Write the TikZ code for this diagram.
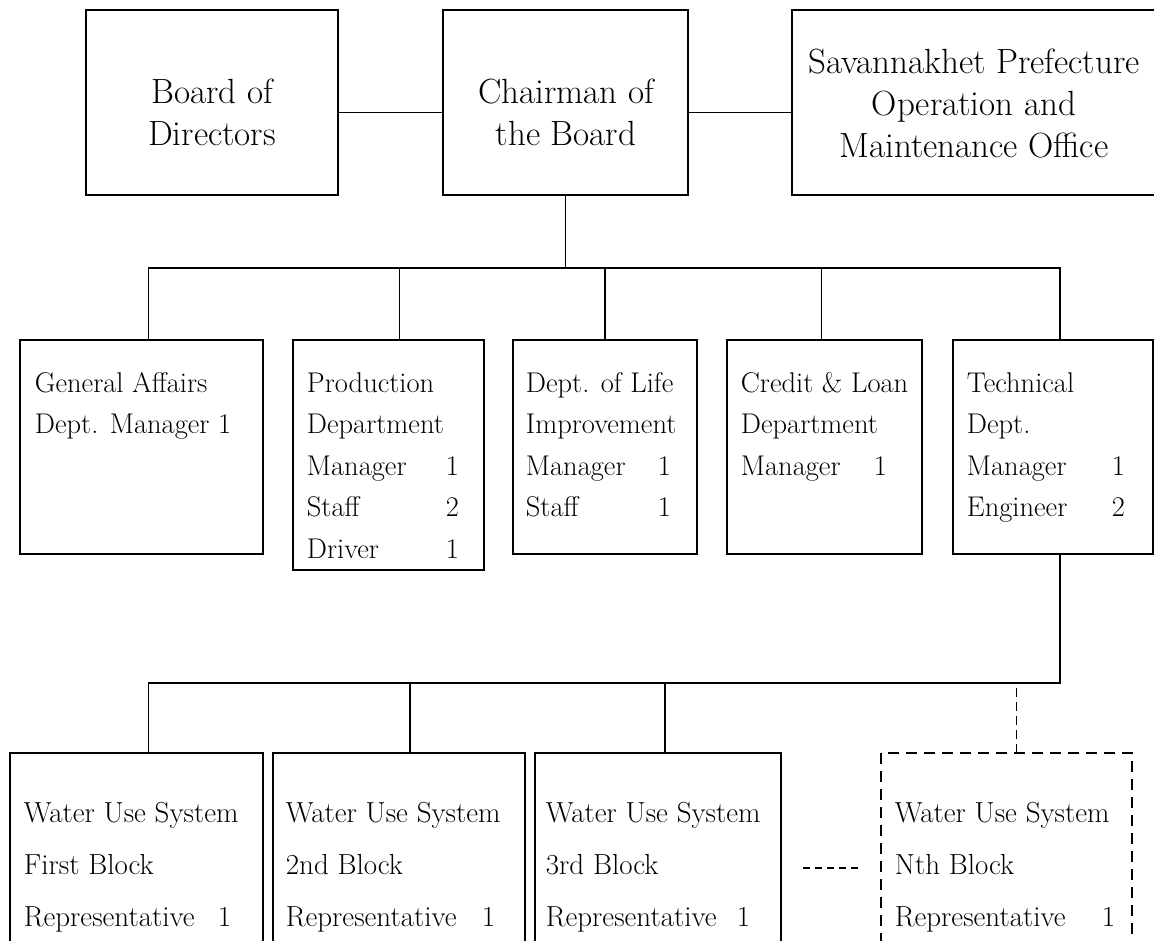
\documentclass[tikz,border=0pt]{standalone}
\usepackage{fontspec}
\usepackage{tikz}

\newcommand{\orgfont}{\fontsize{28.5}{41.5}\selectfont}
\newcommand{\topfont}{\fontsize{35}{42}\selectfont}
\newcommand{\wsfont}{\fontsize{29}{52}\selectfont}
\newcommand{\cnt}[3]{\makebox[#1][l]{#2}#3}

\begin{document}
\begin{tikzpicture}[x=1pt,
            y=-1pt,
            line width=1.8pt,
            box/.style={draw, inner sep=0pt, outer sep=0pt, anchor=north west},
            toptxt/.style={align=center, inner sep=0pt, font=\topfont},
            deptxt/.style={anchor=base west, inner sep=0pt, font=\orgfont},
            wstxt/.style={anchor=base west, inner sep=0pt, font=\wsfont},
            dashbox/.style={box, dash pattern=on 11pt off 7pt}]

        \useasboundingbox (0,0) rectangle (1154,940);
        \clip (0,0) rectangle (1154,940);

        % top row
        \node[box, minimum width=252pt, minimum height=185pt] (bod)   at (86,10)  {};
        \node[box, minimum width=245pt, minimum height=185pt] (chair) at (443,10) {};
        \node[box, minimum width=366pt, minimum height=185pt] (savo)  at (792,10) {};
        \node[toptxt] (bodtxt)   at (212,112) {Board of\\Directors};
        \node[toptxt] (chairtxt) at (566,112) {Chairman of\\the Board};
        \node[toptxt] (savotxt)  at (974,103) {Savannakhet Prefecture\\Operation and\\Maintenance Office};

        % departments
        \node[box, minimum width=243pt, minimum height=214pt] (ga)   at (20,340)  {};
        \node[box, minimum width=191pt, minimum height=230pt] (prod) at (293,340) {};
        \node[box, minimum width=184pt, minimum height=214pt] (life) at (513,340) {};
        \node[box, minimum width=195pt, minimum height=214pt] (cred) at (727,340) {};
        \node[box, minimum width=200pt, minimum height=214pt] (tech) at (953,340) {};

        \node[deptxt] (gatxt) at (34,392) {\begin{tabular}[t]{@{}l@{}}
            General Affairs\\ Dept. Manager 1\end{tabular}};
        \node[deptxt] (prodtxt) at (306,392) {\begin{tabular}[t]{@{}l@{}}
            Production\\ Department\\ \cnt{139pt}{Manager}{1}\\
            \cnt{139pt}{Staff}{2}\\ \cnt{139pt}{Driver}{1}\end{tabular}};
        \node[deptxt] (lifetxt) at (525,392) {\begin{tabular}[t]{@{}l@{}}
            Dept. of Life\\ Improvement\\ \cnt{132pt}{Manager}{1}\\
            \cnt{132pt}{Staff}{1}\end{tabular}};
        \node[deptxt] (credtxt) at (740,392) {\begin{tabular}[t]{@{}l@{}}
            Credit \& Loan\\ Department\\ \cnt{133pt}{Manager}{1}\end{tabular}};
        \node[deptxt] (techtxt) at (966,392) {\begin{tabular}[t]{@{}l@{}}
            Technical\\ Dept.\\ \cnt{145pt}{Manager}{1}\\
            \cnt{145pt}{Engineer}{2}\end{tabular}};

        % water use system blocks
        \node[box, minimum width=253pt, minimum height=200pt] (ws1) at (10,753)  {};
        \node[box, minimum width=252pt, minimum height=200pt] (ws2) at (273,753) {};
        \node[box, minimum width=246pt, minimum height=200pt] (ws3) at (535,753) {};
        \node[dashbox, minimum width=251pt, minimum height=200pt] (wsn) at (881,753) {};

        \node[wstxt] (ws1txt) at (23,822) {\begin{tabular}[t]{@{}l@{}}
            Water Use System\\ First Block\\ \cnt{194pt}{Representative}{1}\end{tabular}};
        \node[wstxt] (ws2txt) at (285,822) {\begin{tabular}[t]{@{}l@{}}
            Water Use System\\ 2nd Block\\ \cnt{196pt}{Representative}{1}\end{tabular}};
        \node[wstxt] (ws3txt) at (545,822) {\begin{tabular}[t]{@{}l@{}}
            Water Use System\\ 3rd Block\\ \cnt{191pt}{Representative}{1}\end{tabular}};
        \node[wstxt] (wsntxt) at (894,822) {\begin{tabular}[t]{@{}l@{}}
            Water Use System\\ Nth Block\\ \cnt{207pt}{Representative}{1}\end{tabular}};

        % connectors
        \coordinate (bus)  at (0,268);
        \coordinate (wbus) at (0,683);

        \draw ([yshift=-10pt]bod.east) -- ([yshift=-10pt]chair.west);
        \draw ([yshift=-10pt]chair.east) -- ([yshift=-10pt]savo.west);
        \draw (chair.south) -- (chair.south |- bus);

        \draw ([xshift=7pt]ga.north) -- ([xshift=7pt]ga.north |- bus)
              -- ([xshift=7pt]tech.north |- bus) -- ([xshift=7pt]tech.north);
        \draw ([xshift=11pt]prod.north) -- ([xshift=11pt]prod.north |- bus);
        \draw (life.north) -- (life.north |- bus);
        \draw ([xshift=-3pt]cred.north) -- ([xshift=-3pt]cred.north |- bus);

        \draw ([xshift=7pt]tech.south) -- ([xshift=7pt]tech.south |- wbus)
              -- ([xshift=12pt]ws1.north |- wbus) -- ([xshift=12pt]ws1.north);
        \draw ([xshift=11pt]ws2.north) -- ([xshift=11pt]ws2.north |- wbus);
        \draw ([xshift=7pt]ws3.north) -- ([xshift=7pt]ws3.north |- wbus);
        \draw[dash pattern=on 9pt off 5pt] ([xshift=10pt]wsn.north) -- ([xshift=10pt]wsn.north |- wbus);

        \draw[dash pattern=on 7pt off 5pt] ([xshift=22pt,yshift=-15pt]ws3.east) -- ([xshift=-21pt,yshift=-15pt]wsn.east -| wsn.west);

\end{tikzpicture}
\end{document}
